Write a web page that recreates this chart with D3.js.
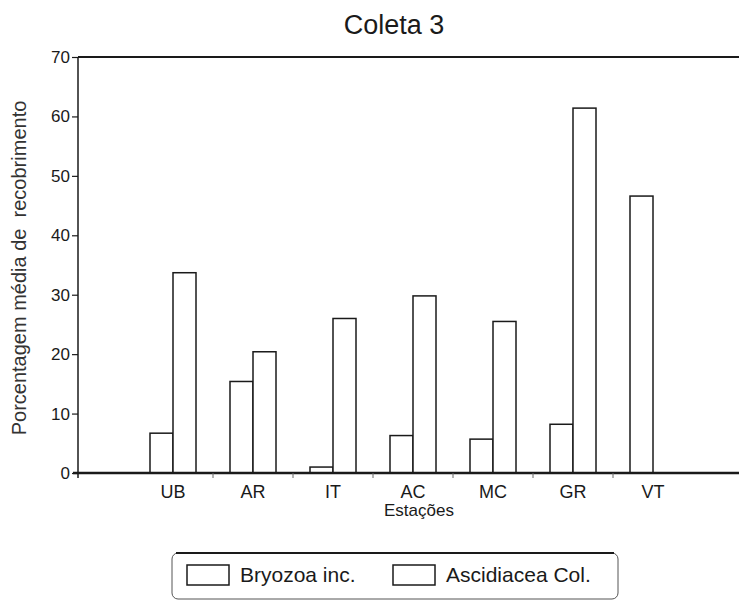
<!DOCTYPE html>
<html>
<head>
<meta charset="utf-8">
<script src="https://cdn.jsdelivr.net/npm/d3@7"></script>
<style>
  body { margin: 0; background: #fff; }
  svg { display: block; font-family: "Liberation Sans", Arial, Helvetica, sans-serif; }
</style>
</head>
<body>
<div id="chart"></div>
<script>
(function () {
    // Data
    var stations = ['UB', 'AR', 'IT', 'AC', 'MC', 'GR', 'VT'];
    var seriesNames = ['Bryozoa inc.', 'Ascidiacea Col.'];
    var bryozoa = [6.7, 15.4, 1.0, 6.3, 5.7, 8.2, 46.6];
    var ascidiacea = [33.7, 20.4, 26.0, 29.8, 25.5, 61.4, 0];
    var yTicks = [0, 10, 20, 30, 40, 50, 60, 70];

    // Layout constants
    var W = 739, H = 601;
    var LEFT = 78, RIGHT = 739, TOP = 57, BOTTOM = 473;
    var BAND_START = 55, BAND_END = 615;  // relative to LEFT
    var BAR_W = 23;
    var INK = '#1a1a1a';

    var svg = d3.select('#chart').append('svg')
        .attr('width', W).attr('height', H);

    var y = d3.scaleLinear().domain([0, 70]).range([BOTTOM, TOP]);
    var x = d3.scaleBand().domain(stations)
        .range([LEFT + BAND_START, LEFT + BAND_END])
        .paddingInner(0).paddingOuter(0);
    var x1 = d3.scaleBand().domain(seriesNames)
        .range([x.bandwidth() / 2 - BAR_W, x.bandwidth() / 2 + BAR_W]);

    // Title
    svg.append('text')
        .attr('x', 394).attr('y', 34)
        .attr('text-anchor', 'middle')
        .attr('font-size', 27)
        .attr('fill', INK)
        .text('Coleta 3');

    // Top frame line
    svg.append('line')
        .attr('x1', LEFT).attr('x2', RIGHT)
        .attr('y1', y(70)).attr('y2', y(70))
        .attr('stroke', INK).attr('stroke-width', 2);

    // Bars
    var rows = stations.map(function (s, i) {
        return { station: s, values: [bryozoa[i], ascidiacea[i]] };
    });
    var groups = svg.append('g').selectAll('g')
        .data(rows)
        .join('g')
        .attr('transform', function (d) { return 'translate(' + x(d.station) + ',0)'; });
    groups.selectAll('rect')
        .data(function (d) {
            return d.values.map(function (v, k) { return { name: seriesNames[k], value: v }; })
                .filter(function (e) { return e.value > 0; });
        })
        .join('rect')
        .attr('x', function (d) { return x1(d.name); })
        .attr('width', x1.bandwidth())
        .attr('y', function (d) { return y(d.value); })
        .attr('height', function (d) { return BOTTOM - y(d.value); })
        .attr('fill', '#fff')
        .attr('stroke', INK)
        .attr('stroke-width', 1.5);

    // Y axis (the spine runs a little below the x axis, as in the original)
    var yAxis = svg.append('g')
        .attr('transform', 'translate(' + LEFT + ',0)')
        .call(d3.axisLeft(y).tickValues(yTicks).tickSize(6).tickPadding(2).tickSizeOuter(0));
    yAxis.select('.domain').remove();
    yAxis.append('line')
        .attr('y1', TOP).attr('y2', BOTTOM + 5)
        .attr('stroke', INK).attr('stroke-width', 1.5);
    yAxis.selectAll('.tick line').attr('stroke', INK).attr('stroke-width', 1.2);
    yAxis.selectAll('.tick text')
        .attr('font-size', 17).attr('fill', INK)
        .attr('font-family', '"Liberation Sans", Arial, sans-serif');

    // X axis: line to the right edge, ticks between stations
    svg.append('line')
        .attr('x1', LEFT - 5).attr('x2', RIGHT)
        .attr('y1', BOTTOM).attr('y2', BOTTOM)
        .attr('stroke', INK).attr('stroke-width', 2.5);
    var boundaries = stations.slice(1).map(function (s) { return x(s); });
    svg.append('g').selectAll('line')
        .data(boundaries)
        .join('line')
        .attr('x1', function (d) { return d; }).attr('x2', function (d) { return d; })
        .attr('y1', BOTTOM).attr('y2', BOTTOM + 5)
        .attr('stroke', '#666').attr('stroke-width', 1);
    svg.append('g').selectAll('text')
        .data(stations)
        .join('text')
        .attr('x', function (d) { return x(d) + x.bandwidth() / 2; })
        .attr('y', 498)
        .attr('text-anchor', 'middle')
        .attr('font-size', 18)
        .attr('fill', INK)
        .text(function (d) { return d; });

    // Axis titles
    svg.append('text')
        .attr('x', 419).attr('y', 516)
        .attr('text-anchor', 'middle')
        .attr('font-size', 17)
        .attr('fill', INK)
        .text('Estações');
    svg.append('text')
        .attr('transform', 'translate(26,268) rotate(-90)')
        .attr('text-anchor', 'middle')
        .attr('font-size', 20)
        .attr('fill', '#333')
        .attr('xml:space', 'preserve')
        .text('Porcentagem média de  recobrimento');

    // Legend
    var legend = svg.append('g');
    legend.append('rect')
        .attr('x', 172).attr('y', 553)
        .attr('width', 446).attr('height', 46)
        .attr('rx', 6)
        .attr('fill', '#fff')
        .attr('stroke', '#555').attr('stroke-width', 1);
    legend.append('line')
        .attr('x1', 176).attr('x2', 614)
        .attr('y1', 553).attr('y2', 553)
        .attr('stroke', INK).attr('stroke-width', 2);
    var legendX = [187, 393];
    var items = legend.selectAll('g.item')
        .data(seriesNames)
        .join('g')
        .attr('class', 'item')
        .attr('transform', function (d, i) { return 'translate(' + legendX[i] + ',565)'; });
    items.append('rect')
        .attr('width', 42).attr('height', 20)
        .attr('fill', '#fff')
        .attr('stroke', INK).attr('stroke-width', 1.5);
    items.append('text')
        .attr('x', 53).attr('y', 17)
        .attr('font-size', 21)
        .attr('fill', INK)
        .text(function (d) { return d; });
}());
</script>
</body>
</html>
